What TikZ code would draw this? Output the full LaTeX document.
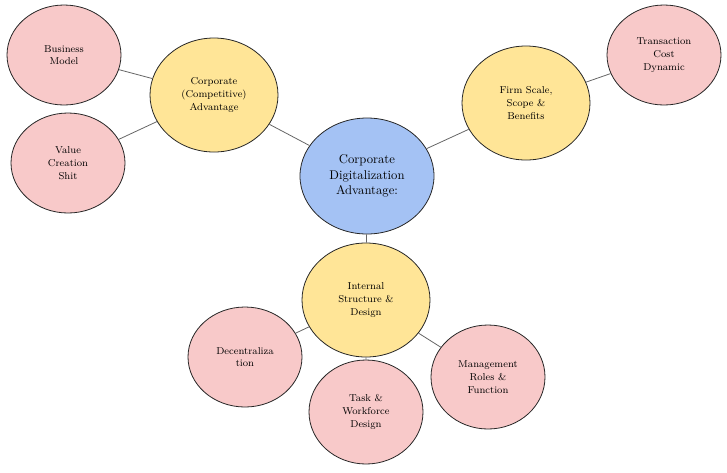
\documentclass[tikz,border=0pt]{standalone}
\usepackage{tikz}
\usetikzlibrary{shapes.geometric}
\definecolor{pinkc}{HTML}{F8C9C9}
\definecolor{yelc}{HTML}{FFE597}
\definecolor{bluec}{HTML}{A4C2F4}
\tikzset{
 bub/.style={ellipse,draw=black!85,line width=0.6pt,inner sep=0pt,align=center,font=\fontsize{7.5}{9.5}\selectfont},
 pk/.style={bub,fill=pinkc,minimum width=114*0.75pt,minimum height=100*0.75pt},
 yl/.style={bub,fill=yelc,minimum width=128*0.75pt,minimum height=114*0.75pt},
 bl/.style={bub,fill=bluec,minimum width=134*0.75pt,minimum height=116*0.75pt,font=\fontsize{9.5}{11.5}\selectfont},
 ln/.style={draw=black!60,line width=0.6pt}
}
\begin{document}
\begin{tikzpicture}[x=0.75pt,y=-0.75pt]
\useasboundingbox (0,0) rectangle (727,472);
\node[bl] (c) at (367,176) {Corporate\\Digitalization\\Advantage:};
\node[yl] (cc) at (214,95) {Corporate\\(Competitive)\\Advantage};
\node[pk] (bm) at (64,55) {Business\\Model};
\node[pk] (vc) at (68,163) {Value\\Creation\\Shit};
\node[yl] (fs) at (526,103) {Firm Scale,\\Scope \&\\Benefits};
\node[pk] (tc) at (664,55) {Transaction\\Cost\\Dynamic};
\node[yl] (is) at (366,300) {Internal\\Structure \&\\Design};
\node[pk] (dz) at (245,357) {Decentraliza\\tion};
\node[pk,minimum height=104*0.75pt] (tw) at (366,412) {Task \&\\Workforce\\Design};
\node[pk,minimum height=104*0.75pt] (mr) at (488,377) {Management\\Roles \&\\Function};
\begin{scope}[on background layer/.style={}]
\end{scope}
\path[ln] (c) -- (cc) (cc) -- (bm) (cc) -- (vc) (c) -- (fs) (fs) -- (tc) (c) -- (is) (is) -- (dz) (is) -- (tw) (is) -- (mr);
\end{tikzpicture}
\end{document}
